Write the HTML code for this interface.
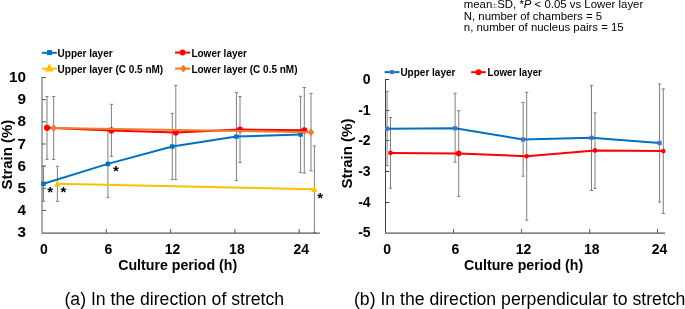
<!DOCTYPE html><html><head><meta charset="utf-8"><style>html,body{margin:0;padding:0;background:#fff;width:685px;height:309px;overflow:hidden}svg{display:block;will-change:transform}text{font-family:"Liberation Sans",sans-serif}</style></head><body>
<svg width="685" height="309" viewBox="0 0 685 309">
<rect width="685" height="309" fill="#fff"/>
<text x="463.8" y="8.4" font-size="11.4" fill="#000">mean<tspan font-size="9" fill="#999">±</tspan>SD, *<tspan font-style="italic">P</tspan> &lt; 0.05 vs Lower layer</text>
<text x="463.8" y="19.6" font-size="11.4" font-weight="normal" text-anchor="start" fill="#000" >N, number of chambers = 5</text>
<text x="463.8" y="31.1" font-size="11.4" font-weight="normal" text-anchor="start" fill="#000" >n, number of nucleus pairs = 15</text>
<line x1="42" y1="77.5" x2="46" y2="77.5" stroke="#595959" stroke-width="1"/>
<line x1="42" y1="99.65" x2="46" y2="99.65" stroke="#595959" stroke-width="1"/>
<line x1="42" y1="121.8" x2="46" y2="121.8" stroke="#595959" stroke-width="1"/>
<line x1="42" y1="143.97" x2="46" y2="143.97" stroke="#595959" stroke-width="1"/>
<line x1="42" y1="166.1" x2="46" y2="166.1" stroke="#595959" stroke-width="1"/>
<line x1="42" y1="188.3" x2="46" y2="188.3" stroke="#595959" stroke-width="1"/>
<line x1="42" y1="210.4" x2="46" y2="210.4" stroke="#595959" stroke-width="1"/>
<line x1="106.3" y1="233" x2="106.3" y2="229" stroke="#595959" stroke-width="1"/>
<line x1="170.6" y1="233" x2="170.6" y2="229" stroke="#595959" stroke-width="1"/>
<line x1="234.9" y1="233" x2="234.9" y2="229" stroke="#595959" stroke-width="1"/>
<line x1="299.2" y1="233" x2="299.2" y2="229" stroke="#595959" stroke-width="1"/>
<line x1="43.5" y1="166.3" x2="43.5" y2="201.3" stroke="#7f7f7f" stroke-width="1"/>
<line x1="41.9" y1="166.3" x2="45.1" y2="166.3" stroke="#7f7f7f" stroke-width="1"/>
<line x1="41.9" y1="201.3" x2="45.1" y2="201.3" stroke="#7f7f7f" stroke-width="1"/>
<line x1="107.9" y1="130.2" x2="107.9" y2="197.6" stroke="#7f7f7f" stroke-width="1"/>
<line x1="106.30000000000001" y1="130.2" x2="109.5" y2="130.2" stroke="#7f7f7f" stroke-width="1"/>
<line x1="106.30000000000001" y1="197.6" x2="109.5" y2="197.6" stroke="#7f7f7f" stroke-width="1"/>
<line x1="172.3" y1="113.4" x2="172.3" y2="179.6" stroke="#7f7f7f" stroke-width="1"/>
<line x1="170.70000000000002" y1="113.4" x2="173.9" y2="113.4" stroke="#7f7f7f" stroke-width="1"/>
<line x1="170.70000000000002" y1="179.6" x2="173.9" y2="179.6" stroke="#7f7f7f" stroke-width="1"/>
<line x1="236.4" y1="92.6" x2="236.4" y2="180.5" stroke="#7f7f7f" stroke-width="1"/>
<line x1="234.8" y1="92.6" x2="238.0" y2="92.6" stroke="#7f7f7f" stroke-width="1"/>
<line x1="234.8" y1="180.5" x2="238.0" y2="180.5" stroke="#7f7f7f" stroke-width="1"/>
<line x1="300.6" y1="96.3" x2="300.6" y2="172.6" stroke="#7f7f7f" stroke-width="1"/>
<line x1="299.0" y1="96.3" x2="302.20000000000005" y2="96.3" stroke="#7f7f7f" stroke-width="1"/>
<line x1="299.0" y1="172.6" x2="302.20000000000005" y2="172.6" stroke="#7f7f7f" stroke-width="1"/>
<line x1="47.0" y1="96.5" x2="47.0" y2="159.4" stroke="#7f7f7f" stroke-width="1"/>
<line x1="45.4" y1="96.5" x2="48.6" y2="96.5" stroke="#7f7f7f" stroke-width="1"/>
<line x1="45.4" y1="159.4" x2="48.6" y2="159.4" stroke="#7f7f7f" stroke-width="1"/>
<line x1="111.4" y1="104.3" x2="111.4" y2="156.3" stroke="#7f7f7f" stroke-width="1"/>
<line x1="109.80000000000001" y1="104.3" x2="113.0" y2="104.3" stroke="#7f7f7f" stroke-width="1"/>
<line x1="109.80000000000001" y1="156.3" x2="113.0" y2="156.3" stroke="#7f7f7f" stroke-width="1"/>
<line x1="175.8" y1="85.4" x2="175.8" y2="179.6" stroke="#7f7f7f" stroke-width="1"/>
<line x1="174.20000000000002" y1="85.4" x2="177.4" y2="85.4" stroke="#7f7f7f" stroke-width="1"/>
<line x1="174.20000000000002" y1="179.6" x2="177.4" y2="179.6" stroke="#7f7f7f" stroke-width="1"/>
<line x1="240.0" y1="96.5" x2="240.0" y2="162.5" stroke="#7f7f7f" stroke-width="1"/>
<line x1="238.4" y1="96.5" x2="241.6" y2="96.5" stroke="#7f7f7f" stroke-width="1"/>
<line x1="238.4" y1="162.5" x2="241.6" y2="162.5" stroke="#7f7f7f" stroke-width="1"/>
<line x1="304.3" y1="87.5" x2="304.3" y2="173.1" stroke="#7f7f7f" stroke-width="1"/>
<line x1="302.7" y1="87.5" x2="305.90000000000003" y2="87.5" stroke="#7f7f7f" stroke-width="1"/>
<line x1="302.7" y1="173.1" x2="305.90000000000003" y2="173.1" stroke="#7f7f7f" stroke-width="1"/>
<line x1="57.4" y1="166.3" x2="57.4" y2="201.3" stroke="#7f7f7f" stroke-width="1"/>
<line x1="55.8" y1="166.3" x2="59.0" y2="166.3" stroke="#7f7f7f" stroke-width="1"/>
<line x1="55.8" y1="201.3" x2="59.0" y2="201.3" stroke="#7f7f7f" stroke-width="1"/>
<line x1="314.4" y1="145.9" x2="314.4" y2="232.4" stroke="#7f7f7f" stroke-width="1"/>
<line x1="312.79999999999995" y1="145.9" x2="316.0" y2="145.9" stroke="#7f7f7f" stroke-width="1"/>
<line x1="312.79999999999995" y1="232.4" x2="316.0" y2="232.4" stroke="#7f7f7f" stroke-width="1"/>
<line x1="53.7" y1="96.5" x2="53.7" y2="159.4" stroke="#7f7f7f" stroke-width="1"/>
<line x1="52.1" y1="96.5" x2="55.300000000000004" y2="96.5" stroke="#7f7f7f" stroke-width="1"/>
<line x1="52.1" y1="159.4" x2="55.300000000000004" y2="159.4" stroke="#7f7f7f" stroke-width="1"/>
<line x1="311.0" y1="93.4" x2="311.0" y2="170.9" stroke="#7f7f7f" stroke-width="1"/>
<line x1="309.4" y1="93.4" x2="312.6" y2="93.4" stroke="#7f7f7f" stroke-width="1"/>
<line x1="309.4" y1="170.9" x2="312.6" y2="170.9" stroke="#7f7f7f" stroke-width="1"/>
<line x1="42" y1="77" x2="42" y2="232.6" stroke="#595959" stroke-width="1"/>
<line x1="41.5" y1="233.15" x2="319.8" y2="233.15" stroke="#595959" stroke-width="1.25"/>
<polyline points="43.5,183.8 107.9,163.9 172.3,146.5 236.4,136.6 300.6,134.5" fill="none" stroke="#0070C0" stroke-width="2" stroke-linejoin="round" stroke-linecap="round"/>
<rect x="41.3" y="181.60000000000002" width="4.4" height="4.4" fill="#0070C0"/>
<rect x="105.7" y="161.70000000000002" width="4.4" height="4.4" fill="#0070C0"/>
<rect x="170.10000000000002" y="144.3" width="4.4" height="4.4" fill="#0070C0"/>
<rect x="234.20000000000002" y="134.4" width="4.4" height="4.4" fill="#0070C0"/>
<rect x="298.40000000000003" y="132.3" width="4.4" height="4.4" fill="#0070C0"/>
<polyline points="47.0,127.8 111.4,130.4 175.8,132.5 240.0,129.5 304.3,130.3" fill="none" stroke="#FF0000" stroke-width="2" stroke-linejoin="round" stroke-linecap="round"/>
<circle cx="47.0" cy="127.8" r="3.1" fill="#FF0000"/>
<circle cx="111.4" cy="130.4" r="3.1" fill="#FF0000"/>
<circle cx="175.8" cy="132.5" r="3.1" fill="#FF0000"/>
<circle cx="240.0" cy="129.5" r="3.1" fill="#FF0000"/>
<circle cx="304.3" cy="130.3" r="3.1" fill="#FF0000"/>
<polyline points="57.4,183.8 314.4,189.3" fill="none" stroke="#FFC000" stroke-width="2" stroke-linejoin="round" stroke-linecap="round"/>
<polygon points="57.4,180.4 60.6,186.52 54.199999999999996,186.52" fill="#FFC000"/>
<polygon points="314.4,185.9 317.59999999999997,192.02 311.2,192.02" fill="#FFC000"/>
<polyline points="53.7,127.9 311.0,132.2" fill="none" stroke="#ED7D31" stroke-width="2" stroke-linejoin="round" stroke-linecap="round"/>
<polygon points="53.7,123.9 56.900000000000006,127.9 53.7,131.9 50.5,127.9" fill="#ED7D31"/>
<polygon points="311.0,128.2 314.2,132.2 311.0,136.2 307.8,132.2" fill="#ED7D31"/>
<text x="50.2" y="197.20000000000002" font-size="15" font-weight="bold" text-anchor="middle" fill="#000" >*</text>
<text x="63.5" y="197.20000000000002" font-size="15" font-weight="bold" text-anchor="middle" fill="#000" >*</text>
<text x="116" y="176.3" font-size="15" font-weight="bold" text-anchor="middle" fill="#000" >*</text>
<text x="320.2" y="202.6" font-size="15" font-weight="bold" text-anchor="middle" fill="#000" >*</text>
<text x="26" y="82.1" font-size="15.3" font-weight="bold" text-anchor="end" fill="#000" >10</text>
<text x="26" y="104.25" font-size="15.3" font-weight="bold" text-anchor="end" fill="#000" >9</text>
<text x="26" y="126.39999999999999" font-size="15.3" font-weight="bold" text-anchor="end" fill="#000" >8</text>
<text x="26" y="148.57" font-size="15.3" font-weight="bold" text-anchor="end" fill="#000" >7</text>
<text x="26" y="170.7" font-size="15.3" font-weight="bold" text-anchor="end" fill="#000" >6</text>
<text x="26" y="192.9" font-size="15.3" font-weight="bold" text-anchor="end" fill="#000" >5</text>
<text x="26" y="215.0" font-size="15.3" font-weight="bold" text-anchor="end" fill="#000" >4</text>
<text x="26" y="237.2" font-size="15.3" font-weight="bold" text-anchor="end" fill="#000" >3</text>
<text x="44.0" y="253.6" font-size="14" font-weight="bold" text-anchor="middle" fill="#000" >0</text>
<text x="108.3" y="253.6" font-size="14" font-weight="bold" text-anchor="middle" fill="#000" >6</text>
<text x="172.6" y="253.6" font-size="14" font-weight="bold" text-anchor="middle" fill="#000" >12</text>
<text x="236.9" y="253.6" font-size="14" font-weight="bold" text-anchor="middle" fill="#000" >18</text>
<text x="301.2" y="253.6" font-size="14" font-weight="bold" text-anchor="middle" fill="#000" >24</text>
<text x="118.2" y="269.7" font-size="14.2" font-weight="bold" text-anchor="start" fill="#000" >Culture period (h)</text>
<text transform="translate(12.4,189.6) rotate(-90)" font-size="15" font-weight="bold" textLength="69.9" lengthAdjust="spacingAndGlyphs">Strain (%)</text>
<line x1="41.9" y1="52.8" x2="56.8" y2="52.8" stroke="#0070C0" stroke-width="2"/>
<rect x="47.0" y="50.1" width="5.0" height="5.0" fill="#0070C0"/>
<text x="57.6" y="57.2" font-size="10" font-weight="bold" text-anchor="start" fill="#000" >Upper layer</text>
<line x1="175.1" y1="52.6" x2="190.2" y2="52.6" stroke="#FF0000" stroke-width="2"/>
<circle cx="182.6" cy="52.6" r="3.0" fill="#FF0000"/>
<text x="191.4" y="57.2" font-size="10" font-weight="bold" text-anchor="start" fill="#000" >Lower layer</text>
<line x1="41.9" y1="68.6" x2="56.8" y2="68.6" stroke="#FFC000" stroke-width="2"/>
<polygon points="49.3,63.2 53.6,71.6 45.0,71.6" fill="#FFC000"/>
<text x="57.6" y="72.5" font-size="10" font-weight="bold" text-anchor="start" fill="#000" >Upper layer (C 0.5 nM)</text>
<line x1="175.1" y1="68.6" x2="190.4" y2="68.6" stroke="#ED7D31" stroke-width="2"/>
<polygon points="183.4,64.69999999999999 186.9,68.6 183.4,72.5 179.9,68.6" fill="#ED7D31"/>
<text x="191.4" y="72.5" font-size="10" font-weight="bold" text-anchor="start" fill="#000" >Lower layer (C 0.5 nM)</text>
<line x1="385.5" y1="79.5" x2="389.2" y2="79.5" stroke="#404040" stroke-width="1"/>
<line x1="385.5" y1="110.5" x2="389.2" y2="110.5" stroke="#404040" stroke-width="1"/>
<line x1="385.5" y1="140.5" x2="389.2" y2="140.5" stroke="#404040" stroke-width="1"/>
<line x1="385.5" y1="171.5" x2="389.2" y2="171.5" stroke="#404040" stroke-width="1"/>
<line x1="385.5" y1="202.5" x2="389.2" y2="202.5" stroke="#404040" stroke-width="1"/>
<line x1="453.5" y1="233" x2="453.5" y2="229" stroke="#595959" stroke-width="1"/>
<line x1="521.6" y1="233" x2="521.6" y2="229" stroke="#595959" stroke-width="1"/>
<line x1="589.7" y1="233" x2="589.7" y2="229" stroke="#595959" stroke-width="1"/>
<line x1="657.5" y1="233" x2="657.5" y2="229" stroke="#595959" stroke-width="1"/>
<line x1="387.1" y1="91.4" x2="387.1" y2="165.6" stroke="#7f7f7f" stroke-width="1"/>
<line x1="385.5" y1="91.4" x2="388.70000000000005" y2="91.4" stroke="#7f7f7f" stroke-width="1"/>
<line x1="385.5" y1="165.6" x2="388.70000000000005" y2="165.6" stroke="#7f7f7f" stroke-width="1"/>
<line x1="455.1" y1="93.3" x2="455.1" y2="162.2" stroke="#7f7f7f" stroke-width="1"/>
<line x1="453.5" y1="93.3" x2="456.70000000000005" y2="93.3" stroke="#7f7f7f" stroke-width="1"/>
<line x1="453.5" y1="162.2" x2="456.70000000000005" y2="162.2" stroke="#7f7f7f" stroke-width="1"/>
<line x1="523.1" y1="102.5" x2="523.1" y2="176.2" stroke="#7f7f7f" stroke-width="1"/>
<line x1="521.5" y1="102.5" x2="524.7" y2="102.5" stroke="#7f7f7f" stroke-width="1"/>
<line x1="521.5" y1="176.2" x2="524.7" y2="176.2" stroke="#7f7f7f" stroke-width="1"/>
<line x1="591.5" y1="85.3" x2="591.5" y2="190.5" stroke="#7f7f7f" stroke-width="1"/>
<line x1="589.9" y1="85.3" x2="593.1" y2="85.3" stroke="#7f7f7f" stroke-width="1"/>
<line x1="589.9" y1="190.5" x2="593.1" y2="190.5" stroke="#7f7f7f" stroke-width="1"/>
<line x1="659.6" y1="83.9" x2="659.6" y2="202.1" stroke="#7f7f7f" stroke-width="1"/>
<line x1="658.0" y1="83.9" x2="661.2" y2="83.9" stroke="#7f7f7f" stroke-width="1"/>
<line x1="658.0" y1="202.1" x2="661.2" y2="202.1" stroke="#7f7f7f" stroke-width="1"/>
<line x1="390.5" y1="117.5" x2="390.5" y2="188.2" stroke="#7f7f7f" stroke-width="1"/>
<line x1="388.9" y1="117.5" x2="392.1" y2="117.5" stroke="#7f7f7f" stroke-width="1"/>
<line x1="388.9" y1="188.2" x2="392.1" y2="188.2" stroke="#7f7f7f" stroke-width="1"/>
<line x1="458.7" y1="110.7" x2="458.7" y2="196.4" stroke="#7f7f7f" stroke-width="1"/>
<line x1="457.09999999999997" y1="110.7" x2="460.3" y2="110.7" stroke="#7f7f7f" stroke-width="1"/>
<line x1="457.09999999999997" y1="196.4" x2="460.3" y2="196.4" stroke="#7f7f7f" stroke-width="1"/>
<line x1="526.7" y1="92.3" x2="526.7" y2="220.2" stroke="#7f7f7f" stroke-width="1"/>
<line x1="525.1" y1="92.3" x2="528.3000000000001" y2="92.3" stroke="#7f7f7f" stroke-width="1"/>
<line x1="525.1" y1="220.2" x2="528.3000000000001" y2="220.2" stroke="#7f7f7f" stroke-width="1"/>
<line x1="595.0" y1="112.9" x2="595.0" y2="188.3" stroke="#7f7f7f" stroke-width="1"/>
<line x1="593.4" y1="112.9" x2="596.6" y2="112.9" stroke="#7f7f7f" stroke-width="1"/>
<line x1="593.4" y1="188.3" x2="596.6" y2="188.3" stroke="#7f7f7f" stroke-width="1"/>
<line x1="663.3" y1="88.9" x2="663.3" y2="213.5" stroke="#7f7f7f" stroke-width="1"/>
<line x1="661.6999999999999" y1="88.9" x2="664.9" y2="88.9" stroke="#7f7f7f" stroke-width="1"/>
<line x1="661.6999999999999" y1="213.5" x2="664.9" y2="213.5" stroke="#7f7f7f" stroke-width="1"/>
<line x1="385.5" y1="79" x2="385.5" y2="232.8" stroke="#404040" stroke-width="1"/>
<line x1="385" y1="233.15" x2="665" y2="233.15" stroke="#595959" stroke-width="1.25"/>
<polyline points="387.1,128.7 455.1,128.3 523.1,139.5 591.5,137.8 659.6,143.0" fill="none" stroke="#0070C0" stroke-width="2" stroke-linejoin="round" stroke-linecap="round"/>
<rect x="385.0" y="126.6" width="4.2" height="4.2" fill="#4472C4"/>
<rect x="453.0" y="126.20000000000002" width="4.2" height="4.2" fill="#4472C4"/>
<rect x="521.0" y="137.4" width="4.2" height="4.2" fill="#4472C4"/>
<rect x="589.4" y="135.70000000000002" width="4.2" height="4.2" fill="#4472C4"/>
<rect x="657.5" y="140.9" width="4.2" height="4.2" fill="#4472C4"/>
<polyline points="390.5,152.9 458.7,153.4 526.7,156.2 595.0,150.4 663.3,151.1" fill="none" stroke="#FF0000" stroke-width="2" stroke-linejoin="round" stroke-linecap="round"/>
<circle cx="390.5" cy="152.9" r="2.3" fill="#FF0000"/>
<circle cx="458.7" cy="153.4" r="2.8" fill="#FF0000"/>
<circle cx="526.7" cy="156.2" r="2.3" fill="#FF0000"/>
<circle cx="595.0" cy="150.4" r="2.3" fill="#FF0000"/>
<circle cx="663.3" cy="151.1" r="2.3" fill="#FF0000"/>
<text x="370.6" y="83.80000000000001" font-size="14.0" font-weight="bold" text-anchor="end" fill="#000" >0</text>
<text x="370.6" y="114.5" font-size="14.0" font-weight="bold" text-anchor="end" fill="#000" >-1</text>
<text x="370.6" y="145.20000000000002" font-size="14.0" font-weight="bold" text-anchor="end" fill="#000" >-2</text>
<text x="370.6" y="175.9" font-size="14.0" font-weight="bold" text-anchor="end" fill="#000" >-3</text>
<text x="370.6" y="206.6" font-size="14.0" font-weight="bold" text-anchor="end" fill="#000" >-4</text>
<text x="370.6" y="237.3" font-size="14.0" font-weight="bold" text-anchor="end" fill="#000" >-5</text>
<text x="387.2" y="253.79999999999998" font-size="14" font-weight="bold" text-anchor="middle" fill="#000" >0</text>
<text x="455.5" y="253.79999999999998" font-size="14" font-weight="bold" text-anchor="middle" fill="#000" >6</text>
<text x="523.6" y="253.79999999999998" font-size="14" font-weight="bold" text-anchor="middle" fill="#000" >12</text>
<text x="591.7" y="253.79999999999998" font-size="14" font-weight="bold" text-anchor="middle" fill="#000" >18</text>
<text x="659.5" y="253.79999999999998" font-size="14" font-weight="bold" text-anchor="middle" fill="#000" >24</text>
<text x="464.1" y="270.3" font-size="14.2" font-weight="bold" text-anchor="start" fill="#000" >Culture period (h)</text>
<text transform="translate(352.0,188.6) rotate(-90)" font-size="15" font-weight="bold" textLength="70" lengthAdjust="spacingAndGlyphs">Strain (%)</text>
<line x1="384.6" y1="72.1" x2="399.5" y2="72.1" stroke="#0070C0" stroke-width="2"/>
<rect x="390.0" y="70.1" width="4.0" height="4.0" fill="#4472C4"/>
<text x="400.4" y="75.8" font-size="10" font-weight="bold" text-anchor="start" fill="#000" >Upper layer</text>
<line x1="471.2" y1="72.2" x2="485.8" y2="72.2" stroke="#FF0000" stroke-width="2"/>
<circle cx="478.5" cy="72.2" r="3.0" fill="#FF0000"/>
<text x="487.6" y="75.8" font-size="10" font-weight="bold" text-anchor="start" fill="#000" textLength="54.3" lengthAdjust="spacingAndGlyphs">Lower layer</text>
<text x="64.5" y="304.8" font-size="17.65" font-weight="normal" text-anchor="start" fill="#000" >(a) In the direction of stretch</text>
<text x="354" y="304.8" font-size="17.65" font-weight="normal" text-anchor="start" fill="#000" >(b) In the direction perpendicular to stretch</text>
</svg></body></html>
